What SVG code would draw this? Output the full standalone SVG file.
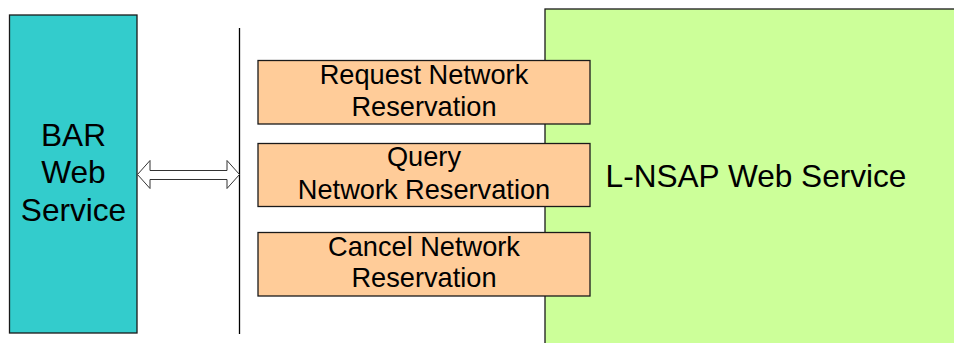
<svg xmlns="http://www.w3.org/2000/svg" width="954" height="343" viewBox="0 0 954 343">
  <style>
    .box { stroke: #1a1a1a; stroke-width: 1.3; }
    .bar { fill: #33CCCC; }
    .op { fill: #FFCC99; }
    .lnsap { fill: #CCFF99; }
    text { font-family: "Liberation Sans", Arial, sans-serif; fill: #000; text-anchor: middle; }
    .big { font-size: 31.6px; }
    .mid { font-size: 27.2px; }
    .conn { fill: #fff; stroke: #333; stroke-width: 1; }
    .sep { stroke: #000; stroke-width: 1.3; }
  </style>

  <rect width="954" height="343" fill="#fff"/>

  <!-- L-NSAP web service backdrop -->
  <g id="lnsap">
    <rect class="box lnsap" x="545" y="9" width="420" height="345"/>
    <text class="big" x="756" y="187">L-NSAP Web Service</text>
  </g>

  <!-- BAR web service -->
  <g id="bar">
    <rect class="box bar" x="9.5" y="15" width="127.5" height="318"/>
    <text class="big" x="73.5" y="146">BAR</text>
    <text class="big" x="73.5" y="183">Web</text>
    <text class="big" x="73.5" y="221">Service</text>
  </g>

  <!-- interface boundary -->
  <g id="boundary">
    <line class="sep" x1="239.5" y1="28" x2="239.5" y2="334"/>
  </g>

  <!-- operations -->
  <g id="op-request">
    <rect class="box op" x="258" y="60.5" width="332" height="63.5"/>
    <text class="mid" x="424" y="83.5">Request Network</text>
    <text class="mid" x="424" y="115.5">Reservation</text>
  </g>
  <g id="op-query">
    <rect class="box op" x="258" y="143.5" width="332" height="63"/>
    <text class="mid" x="424" y="166">Query</text>
    <text class="mid" x="424" y="199">Network Reservation</text>
  </g>
  <g id="op-cancel">
    <rect class="box op" x="258" y="232.5" width="332" height="63.5"/>
    <text class="mid" x="424" y="255.5">Cancel Network</text>
    <text class="mid" x="424" y="287">Reservation</text>
  </g>

  <!-- connectors -->
  <g id="connectors">
    <path class="conn" d="M137.5,174.5 L150,160.5 L150,170.5 L227,170.5 L227,160.5 L239.5,174.5 L227,188.5 L227,179.5 L150,179.5 L150,188.5 Z"/>
  </g>
</svg>
